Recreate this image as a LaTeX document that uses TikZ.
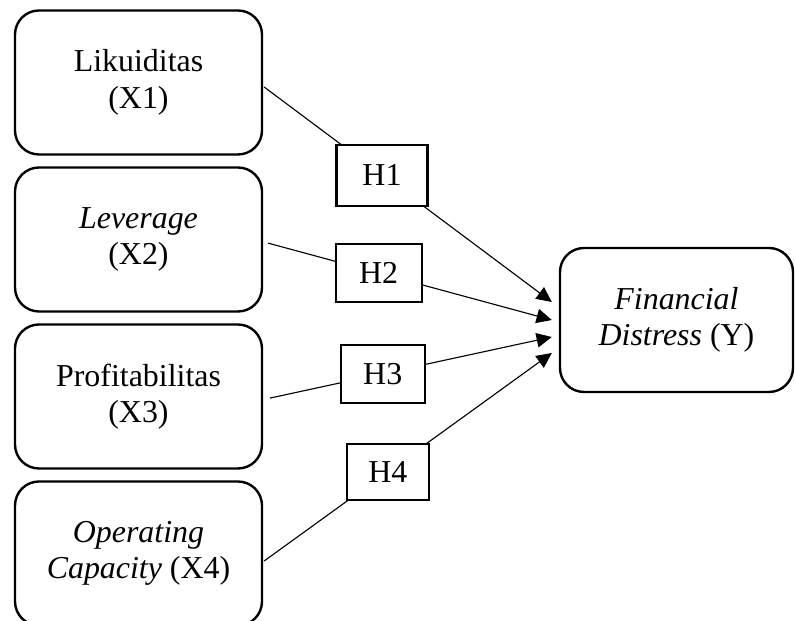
\documentclass[tikz,border=0pt]{standalone}
\usepackage{fontspec}
\setmainfont{Liberation Serif}
\usetikzlibrary{arrows.meta}

\begin{document}
\begin{tikzpicture}[
	var/.style={draw, line width=1.7pt, rounded corners=0.6cm, minimum width=6.175cm, minimum height=3.6cm, align=center, inner sep=0pt, font=\fontsize{22.7}{26}\selectfont},
	hyp/.style={draw, line width=1.5pt, fill=white, inner sep=0pt, font=\fontsize{22.7}{26}\selectfont},
	arr/.style={line width=0.8pt, -{Triangle[length=3.8mm, width=3.6mm]}}
	]
	%\draw[thin, gray!25] (0,0) grid (20,16);
	\useasboundingbox (0,0) rectangle (19.875,15.525);
	\node[var] (x1) at (3.4625,13.4625) {Likuiditas\\(X1)};
	\node[var] (x2) at (3.4625,9.5375) {\textit{Leverage}\\(X2)};
	\node[var] (x3) at (3.4625,5.6125) {Profitabilitas\\(X3)};
	\node[var] (x4) at (3.4625,1.6875) {\textit{Operating}\\\textit{Capacity} (X4)};
	\node[var, minimum width=5.825cm] (y) at (16.9125,7.525) {\textit{Financial}\\\textit{Distress} (Y)};
	\draw[arr] ([shift={(0.02,-0.11)}]x1.east) -- node[hyp, pos=0.41, minimum width=2.275cm, minimum height=1.525cm] (h1) {H1} ([shift={(-0.175,0.45)}]y.west);
	\draw[arr] ([shift={(0.12,-0.09)}]x2.east) -- node[hyp, pos=0.39, minimum width=2.15cm, minimum height=1.45cm] (h2) {H2} ([shift={(-0.175,0)}]y.west);
	\draw[arr] ([shift={(0.17,-0.04)}]x3.east) -- node[hyp, pos=0.40, minimum width=2.1cm, minimum height=1.45cm] (h3) {H3} ([shift={(-0.175,-0.425)}]y.west);
	\draw[arr] ([shift={(0.02,-0.19)}]x4.east) -- node[hyp, pos=0.43, minimum width=2.05cm, minimum height=1.4cm] (h4) {H4} ([shift={(-0.175,-0.825)}]y.west);
\end{tikzpicture}
\end{document}
